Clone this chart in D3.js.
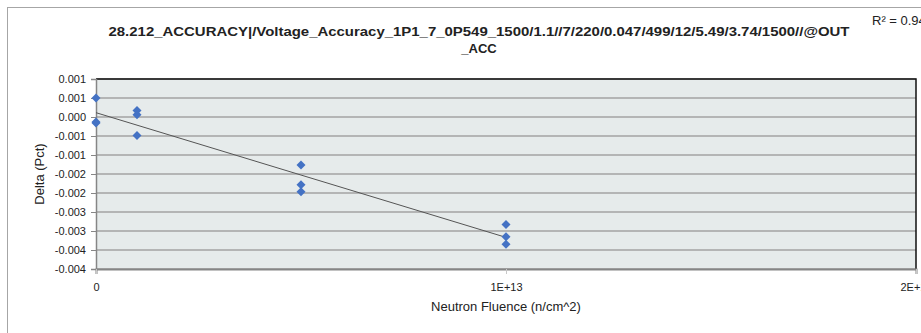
<!DOCTYPE html>
<html lang="en">
<head>
<meta charset="utf-8">
<title>Voltage Accuracy vs Fluence</title>
<script src="https://cdn.jsdelivr.net/npm/d3@7"></script>
<style>
body { margin: 0; background: #fff; }
text { font-family: "Liberation Sans", Arial, sans-serif; fill: #222; }
</style>
</head>
<body>
<div id="chart"></div>
<script>
// data
var fluence = [0, 0, 0, 1e12, 1e12, 1e12, 5e12, 5e12, 5e12, 1e13, 1e13, 1e13];
var delta = [0.0005, -0.00013, -0.00016, 0.00017, 0.00006, -0.00049,
             -0.00126, -0.00178, -0.00197, -0.00283, -0.00315, -0.00335];
var yTicks = [0.001, 0.0005, 0, -0.0005, -0.001, -0.0015, -0.002, -0.0025, -0.003, -0.0035, -0.004];
var yTickLabels = ["0.001", "0.001", "0.000", "-0.001", "-0.001", "-0.002", "-0.002", "-0.003", "-0.003", "-0.004", "-0.004"];
var xTicks = [0, 1e13, 2e13];
var xTickLabels = ["0", "1E+13", "2E+13"];
var titleLines = ["28.212_ACCURACY|/Voltage_Accuracy_1P1_7_0P549_1500/1.1//7/220/0.047/499/12/5.49/3.74/1500//@OUT", "_ACC"];

var width = 921, height = 333;
var plot = {left: 96, right: 916, top: 79, bottom: 269};

var svg = d3.select("#chart").append("svg")
    .attr("width", width).attr("height", height);

// outer chart frame (only left + top visible)
svg.append("line").attr("x1", 7.5).attr("x2", 7.5).attr("y1", 7).attr("y2", height)
    .attr("stroke", "#a6a6a6");
svg.append("line").attr("x1", 7).attr("x2", width).attr("y1", 7.5).attr("y2", 7.5)
    .attr("stroke", "#a6a6a6");

var x = d3.scaleLinear().domain([0, 2e13]).range([plot.left, plot.right]);
var y = d3.scaleLinear().domain([-0.004, 0.001]).range([plot.bottom, plot.top]);

svg.append("rect")
    .attr("x", plot.left).attr("y", plot.top)
    .attr("width", plot.right - plot.left).attr("height", plot.bottom - plot.top)
    .attr("fill", "#e6ebeb");

// gridlines
svg.append("g").selectAll("line").data(yTicks).join("line")
    .attr("x1", plot.left).attr("x2", plot.right)
    .attr("y1", d => y(d)).attr("y2", d => y(d))
    .attr("stroke", "#a3a3a3").attr("stroke-width", 1.5);

// top/right frame of plot
svg.append("path")
    .attr("d", "M" + plot.left + "," + plot.top + "H" + plot.right + "V" + plot.bottom)
    .attr("fill", "none").attr("stroke", "#111").attr("stroke-width", 1.5);

// y axis
var yAxis = d3.axisLeft(y).tickValues(yTicks).tickSize(5).tickPadding(5)
    .tickFormat((d, i) => yTickLabels[i]);
var gy = svg.append("g").attr("transform", "translate(" + plot.left + ",0)").call(yAxis);
gy.select(".domain").attr("stroke", "#868686").attr("stroke-width", 1.5);
gy.selectAll(".tick line").attr("stroke", "#868686");
gy.selectAll("text").style("font-size", "11px").attr("fill", "#222");

// x axis
var xAxis = d3.axisBottom(x).tickValues(xTicks).tickSize(5).tickPadding(9)
    .tickFormat((d, i) => xTickLabels[i]);
var gx = svg.append("g").attr("transform", "translate(0," + plot.bottom + ")").call(xAxis);
gx.select(".domain").attr("stroke", "#868686").attr("stroke-width", 2);
gx.selectAll(".tick line").attr("stroke", "#c8c8c8");
gx.selectAll("text").style("font-size", "11px").attr("fill", "#222");

// linear trendline from the points
var mx = d3.mean(fluence), my = d3.mean(delta);
var sxy = d3.sum(fluence, (d, i) => (d - mx) * (delta[i] - my));
var sxx = d3.sum(fluence, d => (d - mx) * (d - mx));
var syy = d3.sum(delta, d => (d - my) * (d - my));
var slope = sxy / sxx, icpt = my - slope * mx;
var r2 = (sxy * sxy) / (sxx * syy);
var xExt = d3.extent(fluence);
svg.append("line")
    .attr("x1", x(xExt[0])).attr("y1", y(icpt + slope * xExt[0]))
    .attr("x2", x(xExt[1])).attr("y2", y(icpt + slope * xExt[1]))
    .attr("stroke", "#555").attr("stroke-width", 1);

// diamonds
svg.append("g").selectAll("path").data(fluence).join("path")
    .attr("d", "M0,-4.5L4.5,0L0,4.5L-4.5,0Z")
    .attr("transform", (d, i) => "translate(" + x(d) + "," + y(delta[i]) + ")")
    .attr("fill", "#4472c4");

// title
svg.append("g").selectAll("text").data(titleLines).join("text")
    .attr("x", 479).attr("y", (d, i) => 36 + i * 17)
    .attr("text-anchor", "middle")
    .style("font-size", "13px").style("font-weight", "bold")
    .attr("textLength", (d, i) => i === 0 ? 741 : null)
    .attr("lengthAdjust", "spacingAndGlyphs")
    .text(d => d);

// R² label (runs past the right edge, as in the original)
svg.append("text").attr("x", 872).attr("y", 25)
    .style("font-size", "13px")
    .text("R² = " + r2.toFixed(4));

// axis titles
svg.append("text")
    .attr("transform", "translate(44," + ((plot.top + plot.bottom) / 2) + ") rotate(-90)")
    .attr("text-anchor", "middle").style("font-size", "13px")
    .text("Delta (Pct)");
svg.append("text")
    .attr("x", 506).attr("y", 311).attr("text-anchor", "middle")
    .style("font-size", "13px")
    .text("Neutron Fluence (n/cm^2)");
</script>
</body>
</html>
